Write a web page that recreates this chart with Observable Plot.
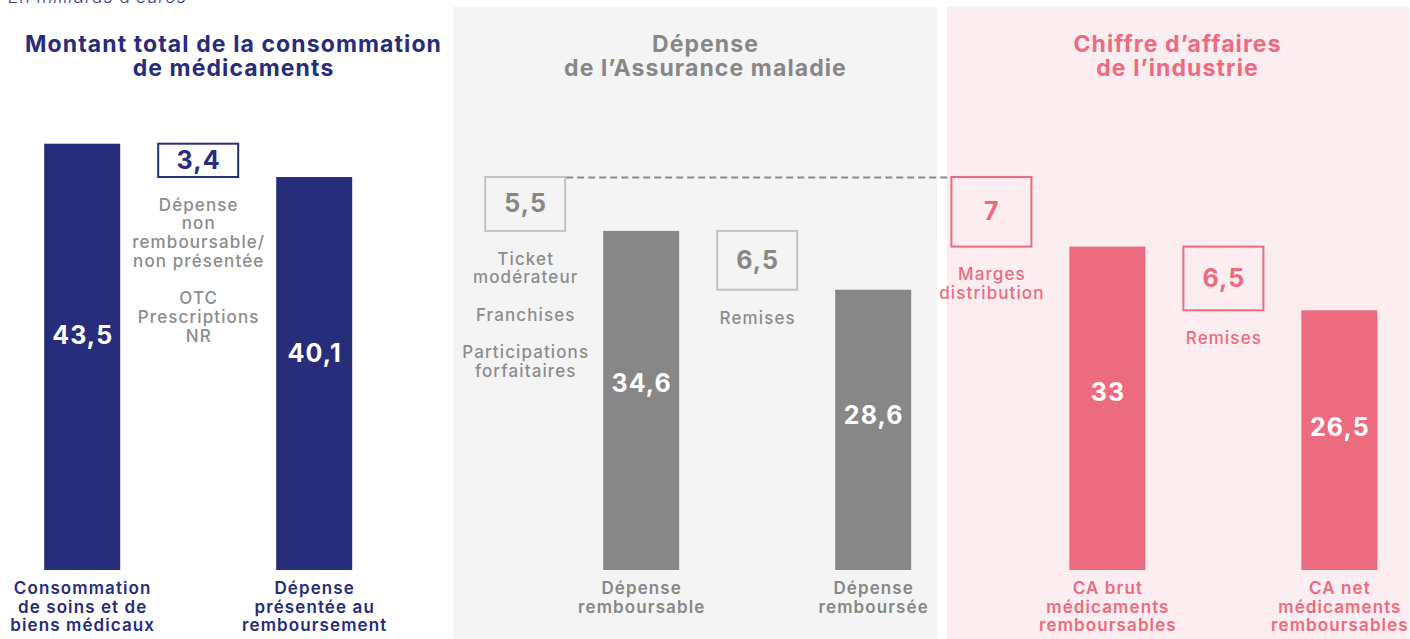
<!DOCTYPE html>
<html><head><meta charset="utf-8">
<script src="https://cdn.jsdelivr.net/npm/d3@7"></script>
<script src="https://cdn.jsdelivr.net/npm/@observablehq/plot@0.6"></script>
<style>
body{margin:0;background:#fff;overflow:hidden}
#wrap{position:relative;width:1410px;height:639px}
#unit{position:absolute;left:8px;top:-13px;font:italic 300 18px Inter, sans-serif;letter-spacing:0.8px;line-height:20px;color:#3d4190;white-space:nowrap}
#chart text{letter-spacing:1.1px}
</style></head><body>
<div id="wrap"><div id="chart"></div><div id="unit">En milliards d’euros</div></div>
<script>
// ---- data ----
const panels = ["left", "mid", "right"];
const panelTitles = ["Montant total de la consommation\nde médicaments", "Dépense\nde l’Assurance maladie", "Chiffre d’affaires\nde l’industrie"];

const barPanels = ["left", "left", "mid", "mid", "right", "right"];
const barSlots = [0, 2, 1, 3, 1, 3];
const barValues = [43.5, 40.1, 34.6, 28.6, 33, 26.5];
const barLabels = ["43,5", "40,1", "34,6", "28,6", "33", "26,5"];
const barNames = ["Consommation\nde soins et de\nbiens médicaux", "Dépense\nprésentée au\nremboursement", "Dépense\nremboursable", "Dépense\nremboursée", "CA brut\nmédicaments\nremboursables", "CA net\nmédicaments\nremboursables"];

const stepPanels = ["left", "mid", "mid", "right", "right"];
const stepSlots = [1, 0, 2, 0, 2];
const stepHigh = [43.5, 40.1, 34.6, 40.1, 33];
const stepLow = [40.1, 34.6, 28.6, 33, 26.5];
const stepLabels = ["3,4", "5,5", "6,5", "7", "6,5"];
const stepNotes = ["Dépense\nnon\nremboursable/\nnon présentée\n\nOTC\nPrescriptions\nNR", "Ticket\nmodérateur\n\nFranchises\n\nParticipations\nforfaitaires", "Remises", "Marges\ndistribution", "Remises"];

// dashed link: from the "5,5" box (mid) to the "7" box (right)
const linkFromPanel = "mid";
const linkToPanel = "right";
const linkValue = 40.1;
const linkFromSlot = 0;
const linkToSlot = 0;
const slotsPerPanel = 4;

// ---- styles / layout ----
const style = {
  left:  {ink: "#272c7b", bg: null,      bgInset: 0,   boxStroke: "#272c7b", boxInk: "#272c7b", noteInk: "#8c8c8c", shift: 0.2},
  mid:   {ink: "#878787", bg: "#f4f4f4", bgInset: -20, boxStroke: "#c2c2c2", boxInk: "#878787", noteInk: "#8c8c8c", shift: -0.05},
  right: {ink: "#ed6b7e", bg: "#fcedf0", bgInset: 2,   boxStroke: "#ed6b7e", boxInk: "#ed6b7e", noteInk: "#ed6b7e", shift: -0.1}
};

const panelRows = panels.map((p, i) => ({panel: p, title: panelTitles[i], ink: style[p].ink, bg: style[p].bg}));
const bars = barValues.map((v, i) => ({panel: barPanels[i], pos: barSlots[i] + style[barPanels[i]].shift, value: v, label: barLabels[i], name: barNames[i], ink: style[barPanels[i]].ink}));
const steps = stepLabels.map((l, i) => ({panel: stepPanels[i], pos: stepSlots[i] + style[stepPanels[i]].shift, high: stepHigh[i], low: stepLow[i], label: l, note: stepNotes[i],
  stroke: style[stepPanels[i]].boxStroke, ink: style[stepPanels[i]].boxInk, noteInk: style[stepPanels[i]].noteInk}));
const links = [{panel: linkFromPanel, value: linkValue,
  from: linkFromSlot + style[linkFromPanel].shift,
  to: slotsPerPanel + linkToSlot + style[linkToPanel].shift}];

const chart = Plot.plot({
  width: 1410,
  height: 639,
  marginTop: 7,
  marginBottom: 0,
  marginLeft: 0,
  marginRight: 0,
  style: {fontFamily: "Inter, sans-serif", background: "white"},
  fx: {domain: panels, paddingInner: 0.017, paddingOuter: 0, axis: null},
  x: {domain: [-0.5, slotsPerPanel - 0.5], axis: null},
  y: {domain: [0, 45], range: [570, 129], axis: null},
  color: {type: "identity"},
  marks: [
    ...panelRows.filter(d => d.bg).map(d => Plot.rect([d], {fx: "panel", fill: "bg", insetLeft: style[d.panel].bgInset})),
    Plot.text(panelRows, {fx: "panel", frameAnchor: "top", text: "title", fill: "ink", fontSize: 23, fontWeight: 700, lineAnchor: "top", dy: 27, lineHeight: 1.05}),
    Plot.rect(bars, {fx: "panel", x1: "pos", x2: "pos", y1: 0, y2: "value", fill: "ink", insetLeft: -38, insetRight: -38}),
    Plot.text(bars, {fx: "panel", x: "pos", y: d => d.value * 0.55, text: "label", fill: "white", fontSize: 25, fontWeight: 700}),
    Plot.text(bars, {fx: "panel", x: "pos", y: 0, text: "name", fill: "ink", fontSize: 17, fontWeight: 600, lineAnchor: "top", dy: 11, lineHeight: 1.07}),
    Plot.rect(steps, {fx: "panel", x1: "pos", x2: "pos", y1: "low", y2: "high", fill: "none", stroke: "stroke", strokeWidth: 2, insetLeft: -40, insetRight: -40}),
    Plot.text(steps, {fx: "panel", x: "pos", y: d => (d.low + d.high) / 2, text: "label", fill: "ink", fontSize: 25, fontWeight: 700}),
    Plot.text(steps, {fx: "panel", x: "pos", y: "low", text: "note", fill: "noteInk", fontSize: 17, fontWeight: 500, lineAnchor: "top", dy: 20, lineHeight: 1.1}),
    Plot.ruleY(links, {fx: "panel", y: "value", x1: "from", x2: "to", stroke: "#8a8a8a", strokeWidth: 2, strokeDasharray: "7,4", insetLeft: 41, insetRight: 33})
  ]
});
document.getElementById("chart").appendChild(chart);
</script>
</body></html>
